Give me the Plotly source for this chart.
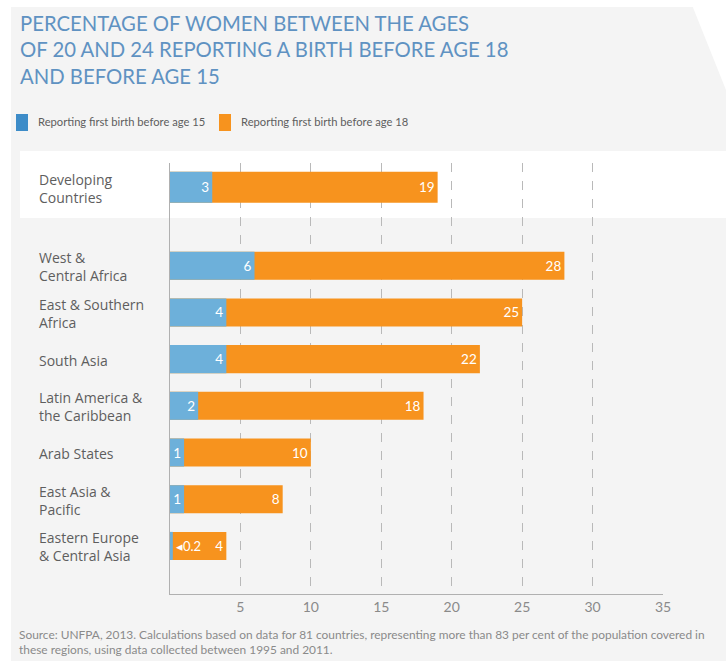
import plotly.graph_objects as go

# Regions (top to bottom) and reported percentages
regions = [
    "Developing<br>Countries",
    "West &<br>Central Africa",
    "East & Southern<br>Africa",
    "South Asia",
    "Latin America &<br>the Caribbean",
    "Arab States",
    "East Asia &<br>Pacific",
    "Eastern Europe<br>& Central Asia",
]
before_15 = [3, 6, 4, 4, 2, 1, 1, 0.2]
before_18 = [19, 28, 25, 22, 18, 10, 8, 4]
x_ticks = [5, 10, 15, 20, 25, 30, 35]

# Row positions: the aggregate row is set apart from the regional rows
row_pos = [0] + [1.68 + i for i in range(len(regions) - 1)]
bar_w = [0.66] + [0.6] * (len(regions) - 1)

BLUE = "#6db0da"
BLUE_KEY = "#3d8cc8"
ORANGE = "#f7931e"
GREY_TEXT = "#5e5e5e"
FONT = "Lato"
LABEL_FONT = "Open Sans"

W, H = 726, 661
L, R, T, B = 170, 63, 163, 67
PW, PH = W - L - R, H - T - B


def px_x(p):
    return (p - L) / PW


def px_y(p):
    return (H - B - p) / PH


def fmt(v):
    return f"{v:g}"


fig = go.Figure()

fig.add_trace(go.Bar(
    y=row_pos, x=before_18, orientation="h", width=bar_w,
    marker=dict(color=ORANGE, line=dict(width=0)),
    text=[fmt(v) for v in before_18], textposition="inside",
    insidetextanchor="end", constraintext="none",
    textfont=dict(color="white", size=13.5, family=FONT),
    name="Reporting first birth before age 18", hoverinfo="x",
))
fig.add_trace(go.Bar(
    y=row_pos, x=before_15, orientation="h", width=bar_w,
    marker=dict(color=BLUE, line=dict(width=0)),
    text=[fmt(v) if v >= 1 else "" for v in before_15], textposition="inside",
    insidetextanchor="end", constraintext="none",
    textfont=dict(color="white", size=13.5, family=FONT),
    name="Reporting first birth before age 15", hoverinfo="x",
))

annotations = []
shapes = []

# Value too small to fit inside its bar: point to it from the left edge
for pos, v in zip(row_pos, before_15):
    if v < 1:
        annotations.append(dict(
            x=v, y=pos, xref="x", yref="y", xanchor="left", yanchor="middle",
            text="◂" + fmt(v), showarrow=False, xshift=1,
            font=dict(color="white", size=13, family=FONT),
        ))

# Region labels, left aligned
for pos, name in zip(row_pos, regions):
    annotations.append(dict(
        x=px_x(37), y=pos, xref="paper", yref="y", xanchor="left", yanchor="middle",
        text=name, align="left", showarrow=False, yshift=-1,
        font=dict(color=GREY_TEXT, size=14, family=LABEL_FONT),
    ))

# Title
annotations.append(dict(
    x=px_x(18), y=px_y(9), xref="paper", yref="paper", xanchor="left", yanchor="top",
    text="PERCENTAGE OF WOMEN BETWEEN THE AGES<br>OF 20 AND 24 REPORTING A BIRTH BEFORE AGE 18<br>AND BEFORE AGE 15",
    align="left", showarrow=False,
    font=dict(color="#5f92c2", size=20.3, family=FONT),
))

# Legend keys
for x0, x1, col, label in [
    (16, 28, BLUE_KEY, "Reporting first birth before age 15"),
    (219, 231, ORANGE, "Reporting first birth before age 18"),
]:
    shapes.append(dict(type="rect", xref="paper", yref="paper",
                       x0=px_x(x0), x1=px_x(x1), y0=px_y(131), y1=px_y(114),
                       fillcolor=col, line=dict(width=0), layer="above"))
    annotations.append(dict(
        x=px_x(x1 + 8), y=px_y(122), xref="paper", yref="paper",
        xanchor="left", yanchor="middle", text=label, showarrow=False,
        font=dict(color=GREY_TEXT, size=11.2, family=FONT),
    ))

# Source note
annotations.append(dict(
    x=px_x(17), y=px_y(625), xref="paper", yref="paper", xanchor="left", yanchor="top",
    text="Source: UNFPA, 2013. Calculations based on data for 81 countries, representing more than 83 per cent of the population covered in<br>these regions, using data collected between 1995 and 2011.",
    align="left", showarrow=False,
    font=dict(color="#8a8a8a", size=11.9, family=FONT),
))

# Panel framing: white band behind the aggregate row and white page edges
shapes += [
    dict(type="rect", xref="paper", yref="paper", x0=px_x(20), x1=px_x(W),
         y0=px_y(218), y1=px_y(151), fillcolor="white", line=dict(width=0), layer="below"),
    dict(type="rect", xref="paper", yref="paper", x0=px_x(0), x1=px_x(11),
         y0=px_y(H), y1=px_y(0), fillcolor="white", line=dict(width=0), layer="below"),
    dict(type="rect", xref="paper", yref="paper", x0=px_x(0), x1=px_x(W),
         y0=px_y(7), y1=px_y(0), fillcolor="white", line=dict(width=0), layer="below"),
    dict(type="path", xref="paper", yref="paper", layer="below",
         path=f"M {px_x(690)} {px_y(0)} L {px_x(W)} {px_y(0)} L {px_x(W)} {px_y(90)} Z",
         fillcolor="white", line=dict(width=0)),
]

fig.update_layout(
    width=W, height=H,
    margin=dict(l=L, r=R, t=T, b=B, pad=0),
    paper_bgcolor="#f4f4f4", plot_bgcolor="rgba(0,0,0,0)",
    barmode="overlay", showlegend=False,
    annotations=annotations, shapes=shapes,
    xaxis=dict(
        range=[0, 35], tickvals=x_ticks, ticktext=[str(v) for v in x_ticks],
        showgrid=True, gridcolor="#b9b9b9", griddash="dash", gridwidth=1,
        zeroline=False, showline=True, linecolor="#b0b0b0", linewidth=1.2,
        ticks="", tickfont=dict(color="#8a8a8a", size=14, family=FONT),
        fixedrange=True,
    ),
    yaxis=dict(
        range=[row_pos[-1] + 1.03, -0.52], showticklabels=False, showgrid=False,
        zeroline=False, showline=True, linecolor="#b0b0b0", linewidth=1.2,
        ticks="", fixedrange=True,
    ),
)

fig.write_html("out.html")
